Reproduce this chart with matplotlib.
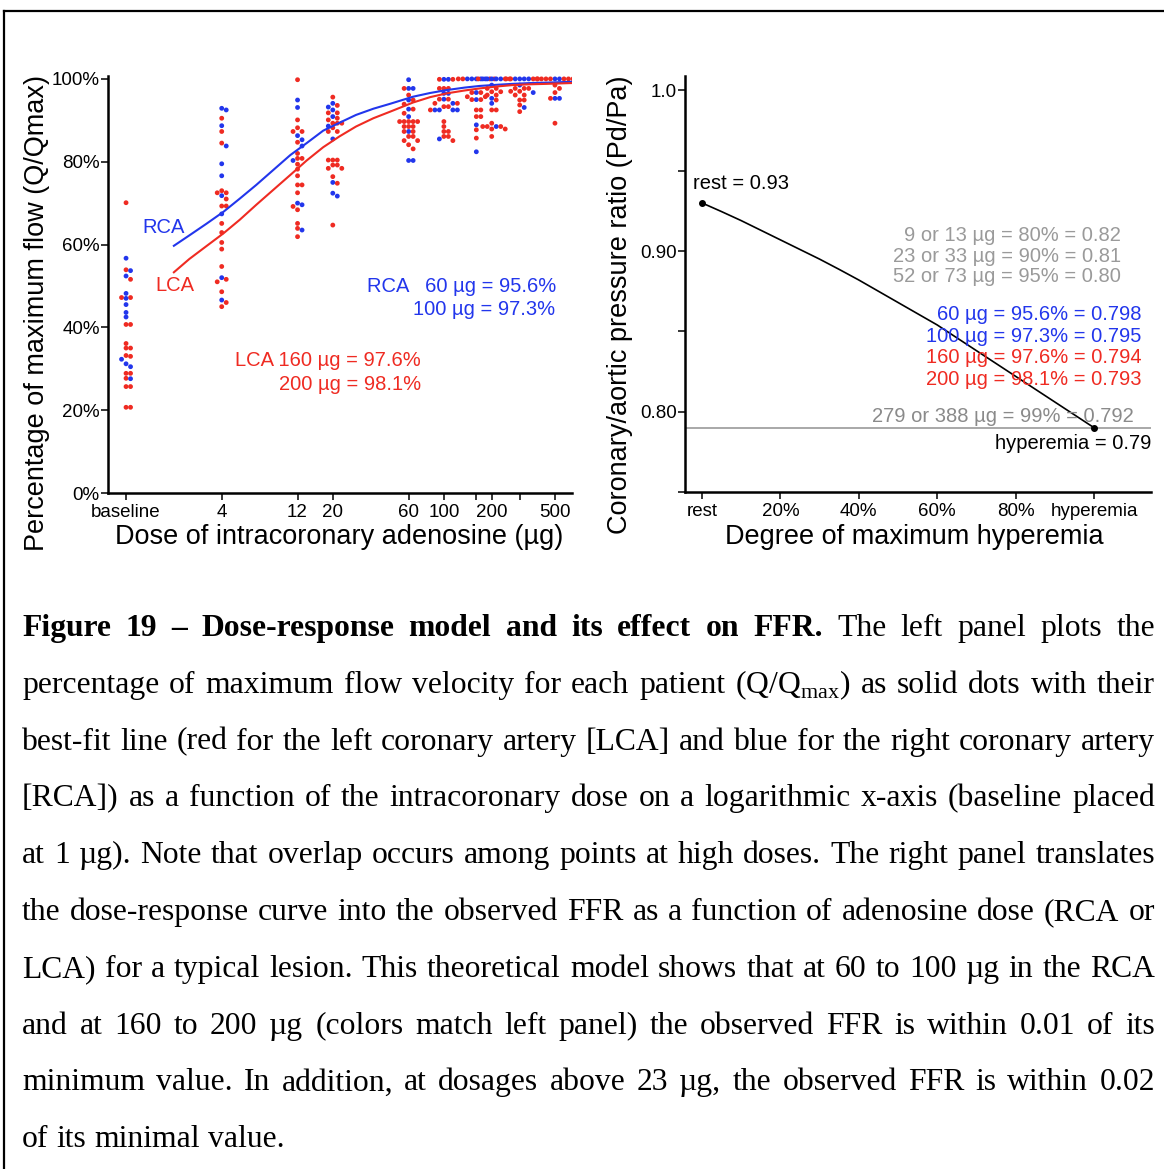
'''
Dose-response figure: adenosine dose vs. percentage of maximum flow (left)
and the resulting coronary/aortic pressure ratio (right), with caption.
'''
import matplotlib
matplotlib.use('Agg')
import matplotlib.pyplot as plt
from matplotlib.lines import Line2D
from matplotlib.ticker import NullLocator

# ---------------------------------------------------------------- data
# dose groups (baseline placed at 1 ug)
doses = [1, 4, 12, 20, 60, 100, 160, 200, 300, 500]
dose_ticks = [1, 4, 12, 20, 60, 100, 160, 200, 300, 500]
dose_tick_labels = ['baseline', '4', '12', '20', '60', '100', '', '200', '',
                    '500']

# percentage of maximum flow per patient, right coronary artery (blue)
rca_base = [56.7, 53.7, 52.4, 48.2, 47.0, 45.5, 43.6, 42.5, 32.3, 31.2,
            30.5, 27.6]
rca_4 = [92.9, 92.5, 88.7, 83.8, 79.5, 76.6, 71.8, 67.4, 52.0, 46.6]
rca_12 = [94.9, 93.1, 86.3, 85.3, 83.8, 80.3, 70.0, 69.6, 63.5]
rca_20 = [94.1, 93.2, 92.5, 90.9, 88.6, 85.5, 75.0, 72.4, 71.7]
rca_60 = [99.8, 97.7, 97.7, 94.9, 92.7, 90.9, 87.3, 80.3, 80.3]
rca_100 = [99.9, 99.9, 96.5, 96.5, 95.1, 94.1, 92.5, 92.5, 92.5, 92.5,
           85.5]
rca_160 = [100, 100, 100, 100, 100, 96.7, 95.0, 88.9, 82.4]
rca_200 = [100, 100, 100, 100, 100, 98.5, 95.3, 94.1, 88.5]
rca_300 = [100, 100, 100, 100, 98.5, 96.7, 93.1]
rca_500 = [100, 100, 95.3, 95.3]

# left coronary artery (red)
lca_base = [70.1, 53.9, 51.6, 47.2, 47.2, 40.7, 40.7, 36.1, 35.0, 35.0,
            33.2, 33.0, 28.9, 28.9, 27.7, 25.7, 25.7, 20.7, 20.7]
lca_4 = [90.5, 87.3, 84.5, 73.0, 72.5, 72.5, 71.0, 69.3, 69.3, 65.1, 62.9,
         60.5, 58.9, 54.7, 51.6, 51.0, 48.6, 46.0, 45.0]
lca_12 = [99.8, 90.1, 88.2, 87.3, 87.3, 84.7, 82.0, 80.8, 80.8, 79.4, 78.2,
          76.6, 74.4, 74.4, 72.5, 69.2, 68.4, 65.1, 63.9, 61.9]
lca_20 = [95.6, 93.6, 91.8, 91.8, 90.5, 90.1, 89.3, 89.3, 89.3, 88.2, 87.3,
          87.3, 80.4, 80.4, 80.4, 79.2, 79.2, 78.4, 78.4, 76.4, 74.8, 64.7]
lca_60 = [97.7, 96.1, 94.9, 93.9, 92.7, 91.7, 89.7, 89.7, 89.7, 89.7, 89.7,
          88.5, 88.5, 88.5, 87.3, 87.3, 86.1, 86.1, 85.1, 85.1, 84.1, 83.1]
lca_100 = [99.9, 99.9, 97.7, 97.7, 97.7, 95.1, 95.1, 94.1, 94.1, 93.3, 93.3,
           92.5, 89.7, 88.5, 87.3, 87.3, 86.1, 86.1, 85.1]
lca_160 = [100, 100, 100, 100, 96.7, 96.7, 95.7, 95.7, 95.0, 95.0, 92.5,
           92.5, 90.9, 90.9, 87.7, 85.7]
lca_200 = [100, 100, 100, 97.7, 97.7, 96.9, 96.9, 96.1, 96.1, 94.9, 92.5,
           92.5, 89.3, 88.5, 88.5, 88.5, 87.9, 87.9, 86.1]
lca_300 = [100, 100, 100, 100, 97.7, 97.7, 97.7, 97.0, 97.0, 96.1, 96.1,
           94.9, 94.9, 93.7, 92.1]
lca_500 = [100, 100, 100, 100, 100, 100, 100, 98.5, 97.7, 96.7, 95.3, 89.3]

rca_groups = [rca_base, rca_4, rca_12, rca_20, rca_60, rca_100, rca_160,
              rca_200, rca_300, rca_500]
lca_groups = [lca_base, lca_4, lca_12, lca_20, lca_60, lca_100, lca_160,
              lca_200, lca_300, lca_500]

# best-fit curves
fit_doses = [2.0, 2.5, 3.2, 4.1, 5.2, 6.6, 8.5, 10.8, 13.7, 17.4, 22, 28,
             36, 46, 64, 82, 104, 135, 168, 220, 270, 350, 440, 640]
rca_fit = [59.7, 62.2, 65.0, 67.9, 71.1, 74.4, 78.1, 81.6, 84.5, 87.5, 89.4,
           91.3, 92.8, 94.0, 95.7, 96.6, 97.3, 97.9, 98.3, 98.6, 98.8, 99.0,
           99.1, 99.3]
lca_fit = [53.3, 56.5, 59.6, 62.7, 66.0, 69.6, 73.3, 76.8, 80.3, 83.5, 86.1,
           88.5, 90.5, 92.1, 94.3, 95.6, 96.5, 97.2, 97.7, 98.2, 98.5, 98.7,
           98.8, 99.0]

# right panel: FFR versus degree of hyperemia
hyperemia_pct = [0, 5, 10, 15, 20, 25, 30, 35, 40, 45, 50, 55, 60, 65, 70,
                 75, 80, 85, 90, 95, 100]
ffr_values = [0.930, 0.9246, 0.919, 0.913, 0.907, 0.901, 0.895, 0.8886,
              0.882, 0.875, 0.868, 0.861, 0.854, 0.846, 0.838, 0.830, 0.822,
              0.814, 0.806, 0.798, 0.790]
hyper_ticks = [0, 20, 40, 60, 80, 100]
hyper_tick_labels = ['rest', '20%', '40%', '60%', '80%', 'hyperemia']
ffr_ticks = [0.75, 0.80, 0.85, 0.90, 0.95, 1.0]
ffr_tick_labels = ['', '0.80', '', '0.90', '', '1.0']

caption_bold = 'Figure 19 \u2013 Dose-response model and its effect on FFR.'
caption_lines = [
    'The left panel plots the',
    'percentage of maximum flow velocity for each patient '
    '(Q/Q$_\\mathregular{max}$) as solid dots with their',
    'best-fit line (red for the left coronary artery [LCA] and blue for the '
    'right coronary artery',
    '[RCA]) as a function of the intracoronary dose on a logarithmic x-axis '
    '(baseline placed',
    'at 1 \u00b5g). Note that overlap occurs among points at high doses. '
    'The right panel translates',
    'the dose-response curve into the observed FFR as a function of '
    'adenosine dose (RCA or',
    'LCA) for a typical lesion. This theoretical model shows that at 60 to '
    '100 \u00b5g in the RCA',
    'and at 160 to 200 \u00b5g (colors match left panel) the observed FFR is '
    'within 0.01 of its',
    'minimum value. In addition, at dosages above 23 \u00b5g, the observed '
    'FFR is within 0.02',
    'of its minimal value.',
]

# ---------------------------------------------------------------- style
W, H = 1164, 1169
RED = '#ef2b22'
BLUE = '#2236ec'
GRAY = '#9a9a9a'
SANS = 'Liberation Sans'
SERIF = 'Liberation Serif'
DOT = 4.5  # dot diameter in pixels

plt.rcParams['font.family'] = [SANS, 'DejaVu Sans']
plt.rcParams['axes.linewidth'] = 1.8

fig = plt.figure(figsize=(W / 100, H / 100), dpi=100)


def px_rect(x0, y_top, x1, y_bottom):
    '''axes rectangle from pixel edges (y measured from the top)'''
    return [x0 / W, 1 - y_bottom / H, (x1 - x0) / W, (y_bottom - y_top) / H]


def style_axes(ax):
    for side in ('top', 'right'):
        ax.spines[side].set_visible(False)
    ax.tick_params(direction='out', length=5, width=1.1, labelsize=13.5,
                   pad=1)


def swarm_x(ax, center, ys):
    '''spread points of one dose group sideways so they do not overlap'''
    cx = ax.transData.transform((center, 50))[0]
    placed = []
    xs = []
    for y in ys:
        py = ax.transData.transform((center, y))[1]
        k = 0
        while True:
            off = ((k + 1) // 2) * DOT * (1 if k % 2 else -1)
            if all((px - cx - off) ** 2 + (qy - py) ** 2 >= (0.95 * DOT) ** 2
                   for px, qy in placed):
                break
            k += 1
        placed.append((cx + off, py))
        xs.append(ax.transData.inverted().transform((cx + off, py))[0])
    return xs


# ---------------------------------------------------------------- left panel
ax1 = fig.add_axes(px_rect(108, 76, 572, 493))
style_axes(ax1)
ax1.set_xscale('log')
ax1.set_xlim(0.77, 640)
ax1.set_ylim(0, 100.7)
ax1.set_xticks(dose_ticks)
ax1.set_xticklabels(dose_tick_labels)
ax1.xaxis.set_minor_locator(NullLocator())
ax1.set_yticks([0, 20, 40, 60, 80, 100])
ax1.set_yticklabels(['0%', '20%', '40%', '60%', '80%', '100%'])
ax1.tick_params(axis='x', pad=3)

for dose, rca, lca in zip(doses, rca_groups, lca_groups):
    pts = [(y, BLUE) for y in rca] + [(y, RED) for y in lca]
    pts.sort(key=lambda p: -p[0])
    ys = [p[0] for p in pts]
    cols = [p[1] for p in pts]
    xs = swarm_x(ax1, dose, ys)
    ax1.scatter(xs, ys, s=12, c=cols, linewidths=0, zorder=2)

ax1.plot(fit_doses, rca_fit, color=BLUE, linewidth=1.5, zorder=3)
ax1.plot(fit_doses, lca_fit, color=RED, linewidth=1.5, zorder=3)

ax1.text(1.26, 64, 'RCA', color=BLUE, fontsize=14.5, va='center')
ax1.text(1.52, 50, 'LCA', color=RED, fontsize=14.5, va='center')
ax1.text(506, 49.8, 'RCA   60 \u00b5g = 95.6%', color=BLUE, fontsize=14.5,
         ha='right', va='center')
ax1.text(500, 44.4, '100 \u00b5g = 97.3%', color=BLUE, fontsize=14.5,
         ha='right', va='center')
ax1.text(72, 31.9, 'LCA 160 \u00b5g = 97.6%', color=RED, fontsize=14.5,
         ha='right', va='center')
ax1.text(72, 26.3, '200 \u00b5g = 98.1%', color=RED, fontsize=14.5,
         ha='right', va='center')

fig.text(37 / W, 1 - 313 / H, 'Percentage of maximum flow (Q/Qmax)',
         rotation=90, fontsize=19.5, ha='center', va='center')
fig.text(339 / W, 1 - 537 / H, 'Dose of intracoronary adenosine (\u00b5g)',
         fontsize=19.5, ha='center', va='center')

# ---------------------------------------------------------------- right panel
ax2 = fig.add_axes(px_rect(685, 76, 1151, 492))
style_axes(ax2)
ax2.set_xlim(-4.3, 114.5)
ax2.set_ylim(0.75, 1.009)
ax2.set_xticks(hyper_ticks)
ax2.set_xticklabels(hyper_tick_labels)
ax2.set_yticks(ffr_ticks)
ax2.set_yticklabels(ffr_tick_labels)
ax2.tick_params(axis='x', pad=3)

ax2.axhline(0.79, color=GRAY, linewidth=1.2, zorder=1)
ax2.plot(hyperemia_pct, ffr_values, color='black', linewidth=1.2, zorder=3)
ax2.plot([hyperemia_pct[0], hyperemia_pct[-1]],
         [ffr_values[0], ffr_values[-1]], 'o', color='black', markersize=4,
         zorder=4)

ax2.text(-2.3, 0.942, 'rest = 0.93', fontsize=14.5, va='center')
gray_notes = ['9 or 13 \u00b5g = 80% = 0.82', '23 or 33 \u00b5g = 90% = 0.81',
              '52 or 73 \u00b5g = 95% = 0.80']
for note, yv in zip(gray_notes, [0.9094, 0.8969, 0.8844]):
    ax2.text(106.9, yv, note, color=GRAY, fontsize=14.5, ha='right',
             va='center')
color_notes = [('60 \u00b5g = 95.6% = 0.798', BLUE, 0.8606),
               ('100 \u00b5g = 97.3% = 0.795', BLUE, 0.8469),
               ('160 \u00b5g = 97.6% = 0.794', RED, 0.8338),
               ('200 \u00b5g = 98.1% = 0.793', RED, 0.8200)]
for note, col, yv in color_notes:
    ax2.text(112, yv, note, color=col, fontsize=14.5, ha='right',
             va='center')
ax2.text(110, 0.7969, '279 or 388 \u00b5g = 99% = 0.792', color='#8a8a8a',
         fontsize=14.5, ha='right', va='center')
ax2.text(114.5, 0.780, 'hyperemia = 0.79', fontsize=14.5, ha='right',
         va='center')

fig.text(620 / W, 1 - 305 / H, 'Coronary/aortic pressure ratio (Pd/Pa)',
         rotation=90, fontsize=19.5, ha='center', va='center')
fig.text(914 / W, 1 - 537 / H, 'Degree of maximum hyperemia',
         fontsize=19.5, ha='center', va='center')

# ---------------------------------------------------------------- frame
fig.add_artist(Line2D([3.5 / W, 3.5 / W], [0, 1 - 11 / H], color='black',
                      linewidth=1.6, transform=fig.transFigure))
fig.add_artist(Line2D([3.5 / W, 1], [1 - 11 / H, 1 - 11 / H], color='black',
                      linewidth=1.6, transform=fig.transFigure))

# ---------------------------------------------------------------- caption
renderer = fig.canvas.get_renderer()
cap_left, cap_right = 22, 1155
cap_base, cap_step = 636, 56.8
for i, line in enumerate(caption_lines):
    words = [(w, 'normal') for w in line.split(' ')]
    if i == 0:
        words = [(w, 'bold') for w in caption_bold.split(' ')] + words
    y = 1 - (cap_base + i * cap_step) / H
    texts = [fig.text(0, y, w, fontsize=22.8, family=SERIF, weight=wt,
                      va='baseline', ha='left') for w, wt in words]
    widths = [t.get_window_extent(renderer).width for t in texts]
    if i < len(caption_lines) - 1:
        gap = (cap_right - cap_left - sum(widths)) / (len(words) - 1)
    else:
        gap = 0.25 * 22.8 * 100 / 72
    x = cap_left
    for t, wd in zip(texts, widths):
        t.set_x(x / W)
        x += wd + gap

fig.savefig('out.png', dpi=100)
